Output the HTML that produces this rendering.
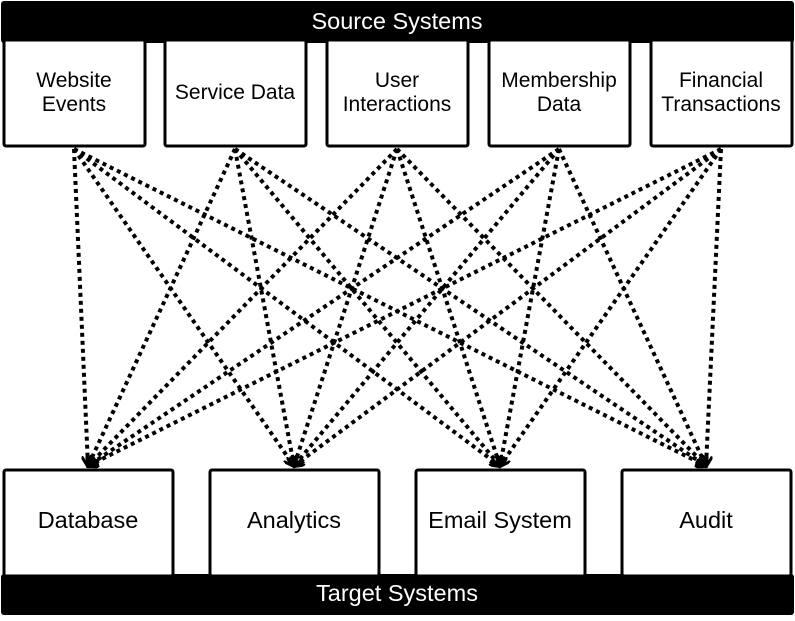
<!DOCTYPE html>
<html><head><style>
html,body{margin:0;padding:0;background:#fff;}
body{width:795px;height:616px;overflow:hidden;font-family:"Liberation Sans",sans-serif;}
</style></head><body>
<svg width="795" height="616" viewBox="0 0 795 616" xmlns="http://www.w3.org/2000/svg" font-family="Liberation Sans, sans-serif">
<defs>
<marker id="a" markerWidth="12" markerHeight="12" refX="10" refY="6" orient="auto" markerUnits="userSpaceOnUse">
<path d="M0,0 L11,6 L0,12" fill="none" stroke="#000" stroke-width="3"/>
</marker>
</defs>
<rect x="1" y="1" width="793" height="42" rx="3" fill="#000"/>
<text x="397" y="29" font-size="23.5" fill="#fff" text-anchor="middle">Source Systems</text>
<rect x="1" y="574" width="793" height="41" rx="3" fill="#000"/>
<text x="397" y="601" font-size="23.5" fill="#fff" text-anchor="middle">Target Systems</text>
<g fill="#fff" stroke="#000" stroke-width="3">
<rect x="4" y="40" width="141" height="106" rx="2"/>
<rect x="165" y="40" width="141" height="106" rx="2"/>
<rect x="327" y="40" width="141" height="106" rx="2"/>
<rect x="489" y="40" width="141" height="106" rx="2"/>
<rect x="651" y="40" width="141" height="106" rx="2"/>
<rect x="4" y="470" width="169" height="106" rx="2"/>
<rect x="210" y="470" width="169" height="106" rx="2"/>
<rect x="416" y="470" width="169" height="106" rx="2"/>
<rect x="622" y="470" width="169" height="106" rx="2"/>
</g>
<g font-size="21" text-anchor="middle" fill="#000">
<text x="74" y="87">Website</text><text x="74" y="111">Events</text>
<text x="235" y="99">Service Data</text>
<text x="397" y="87">User</text><text x="397" y="111">Interactions</text>
<text x="559" y="87">Membership</text><text x="559" y="111">Data</text>
<text x="721" y="87">Financial</text><text x="721" y="111">Transactions</text>
<text x="88" y="528" font-size="23.5">Database</text>
<text x="294" y="528" font-size="23.5">Analytics</text>
<text x="500" y="528" font-size="23.5">Email System</text>
<text x="706" y="528" font-size="23.5">Audit</text>
</g>
<g stroke="#000" stroke-width="4" stroke-dasharray="4 4" fill="none" marker-end="url(#a)">
<line x1="74" y1="149" x2="88" y2="466"/>
<line x1="74" y1="149" x2="294" y2="466"/>
<line x1="74" y1="149" x2="500" y2="466"/>
<line x1="74" y1="149" x2="706" y2="466"/>
<line x1="235" y1="149" x2="88" y2="466"/>
<line x1="235" y1="149" x2="294" y2="466"/>
<line x1="235" y1="149" x2="500" y2="466"/>
<line x1="235" y1="149" x2="706" y2="466"/>
<line x1="397" y1="149" x2="88" y2="466"/>
<line x1="397" y1="149" x2="294" y2="466"/>
<line x1="397" y1="149" x2="500" y2="466"/>
<line x1="397" y1="149" x2="706" y2="466"/>
<line x1="559" y1="149" x2="88" y2="466"/>
<line x1="559" y1="149" x2="294" y2="466"/>
<line x1="559" y1="149" x2="500" y2="466"/>
<line x1="559" y1="149" x2="706" y2="466"/>
<line x1="721" y1="149" x2="88" y2="466"/>
<line x1="721" y1="149" x2="294" y2="466"/>
<line x1="721" y1="149" x2="500" y2="466"/>
<line x1="721" y1="149" x2="706" y2="466"/>
</g>
</svg>
</body></html>
